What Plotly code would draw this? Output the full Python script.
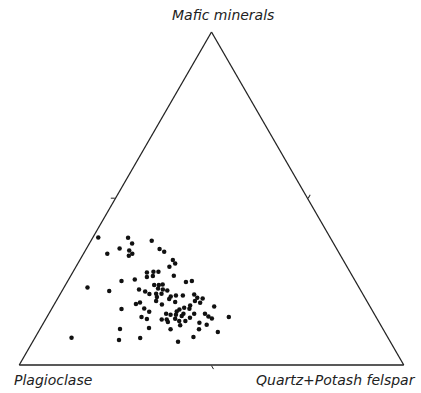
import plotly.graph_objects as go

# Modal composition (%) of each analysed sample
mafic = [38.3, 38.2, 36.5, 37.3, 33.4, 35.0, 34.4, 33.4, 32.8, 34.8,
         34.0, 31.5, 30.5, 29.5, 27.8, 28.0, 28.0, 26.4, 26.7, 26.8,
         25.2, 25.7, 23.3, 22.2, 22.7, 22.1, 21.3, 18.8, 18.3, 17.0,
         16.8, 16.0, 14.4, 13.8, 11.1, 10.8, 8.2, 7.5, 8.1,
         24.0, 24.0, 24.2, 23.0, 22.7, 22.4, 21.4, 21.4, 20.4, 19.2,
         18.2, 20.6, 19.8, 20.9, 20.9, 18.9, 24.9, 25.2, 21.2, 20.2,
         20.0, 19.2, 18.7, 17.9, 17.6, 16.9, 17.2, 16.7, 15.4, 15.4,
         16.1, 15.1, 14.7, 14.2, 13.2, 13.2, 13.9, 11.9, 15.4, 15.1,
         13.7, 12.9, 13.7, 15.4, 14.6, 14.0, 14.4, 12.7, 12.1, 10.7,
         9.9, 8.4, 7.0, 10.7]
plagioclase = [60.3, 52.6, 52.4, 46.9, 60.4, 56.4, 54.2, 53.9, 55.1, 46.1,
               45.3, 44.3, 44.2, 46.2, 52.9, 51.1, 49.8, 53.6, 51.9, 46.4,
               60.8, 57.1, 70.6, 65.5, 57.5, 56.2, 55.5, 59.2, 60.5, 59.0,
               65.0, 58.2, 61.0, 59.9, 60.7, 68.4, 82.3, 70.3, 64.5,
               52.9, 51.7, 50.6, 52.4, 51.3, 50.3, 53.7, 52.3, 54.0, 54.8,
               53.8, 50.3, 51.1, 48.8, 47.0, 50.0, 44.2, 42.5, 43.9, 43.6,
               42.3, 44.7, 43.6, 46.6, 40.5, 47.3, 48.5, 50.0, 46.8, 49.6,
               51.0, 51.7, 50.4, 48.5, 50.2, 51.8, 52.5, 52.2, 54.1, 53.1,
               54.8, 54.9, 56.1, 44.0, 43.5, 42.9, 38.3, 46.8, 45.2, 47.9,
               43.4, 50.5, 55.2, 55.3]
quartz_kfeldspar = [1.4, 9.2, 11.1, 15.8, 6.2, 8.6, 11.4, 12.7, 12.1, 19.1,
                    20.7, 24.2, 25.3, 24.3, 19.3, 20.9, 22.2, 20.0, 21.4, 26.8,
                    14.0, 17.2, 6.1, 12.3, 19.8, 21.7, 23.2, 22.0, 21.2, 24.0,
                    18.2, 25.8, 24.6, 26.3, 28.2, 20.8, 9.5, 22.2, 27.4,
                    23.1, 24.3, 25.2, 24.6, 26.0, 27.3, 24.9, 26.3, 25.6, 26.0,
                    28.0, 29.1, 29.1, 30.3, 32.1, 31.1, 30.9, 32.3, 34.9, 36.2,
                    37.7, 36.1, 37.7, 35.5, 41.9, 35.8, 34.3, 33.3, 37.8, 35.0,
                    32.9, 33.2, 34.9, 37.3, 36.6, 35.0, 33.6, 35.9, 30.5, 31.8,
                    31.5, 32.2, 30.2, 40.6, 41.9, 43.1, 47.3, 40.5, 42.7, 41.4,
                    46.7, 41.1, 37.8, 34.0]

apex_labels = ["Mafic minerals", "Plagioclase", "Quartz+Potash felspar"]

fig = go.Figure(go.Scatterternary(
    a=mafic, b=plagioclase, c=quartz_kfeldspar,
    mode="markers",
    marker=dict(size=4.5, color="#111111", line=dict(width=0)),
    hoverinfo="skip",
))

axis_style = dict(
    showgrid=False, showticklabels=False,
    ticks="outside", tickmode="array", tickvals=[50],
    ticklen=4, tickwidth=1.2, tickcolor="#222222",
    linecolor="#222222", linewidth=1.3, title=dict(text=""),
)

label_font = dict(family="DejaVu Sans", size=14, color="#222222", style="italic")

fig.update_layout(
    width=421, height=393,
    margin=dict(l=19, r=17, t=32, b=28),
    paper_bgcolor="white",
    showlegend=False,
    ternary=dict(
        sum=100, bgcolor="white",
        domain=dict(x=[0, 1], y=[0, 1]),
        aaxis=axis_style, baxis=axis_style, caxis=axis_style,
    ),
    annotations=[
        dict(text=apex_labels[0], xref="paper", yref="paper", x=0.53, y=1.051,
             xanchor="center", yanchor="middle", showarrow=False, font=label_font),
        dict(text=apex_labels[1], xref="paper", yref="paper", x=-0.018, y=-0.045,
             xanchor="left", yanchor="middle", showarrow=False, font=label_font),
        dict(text=apex_labels[2], xref="paper", yref="paper", x=1.036, y=-0.045,
             xanchor="right", yanchor="middle", showarrow=False, font=label_font),
    ],
)

fig.write_html("out.html")
